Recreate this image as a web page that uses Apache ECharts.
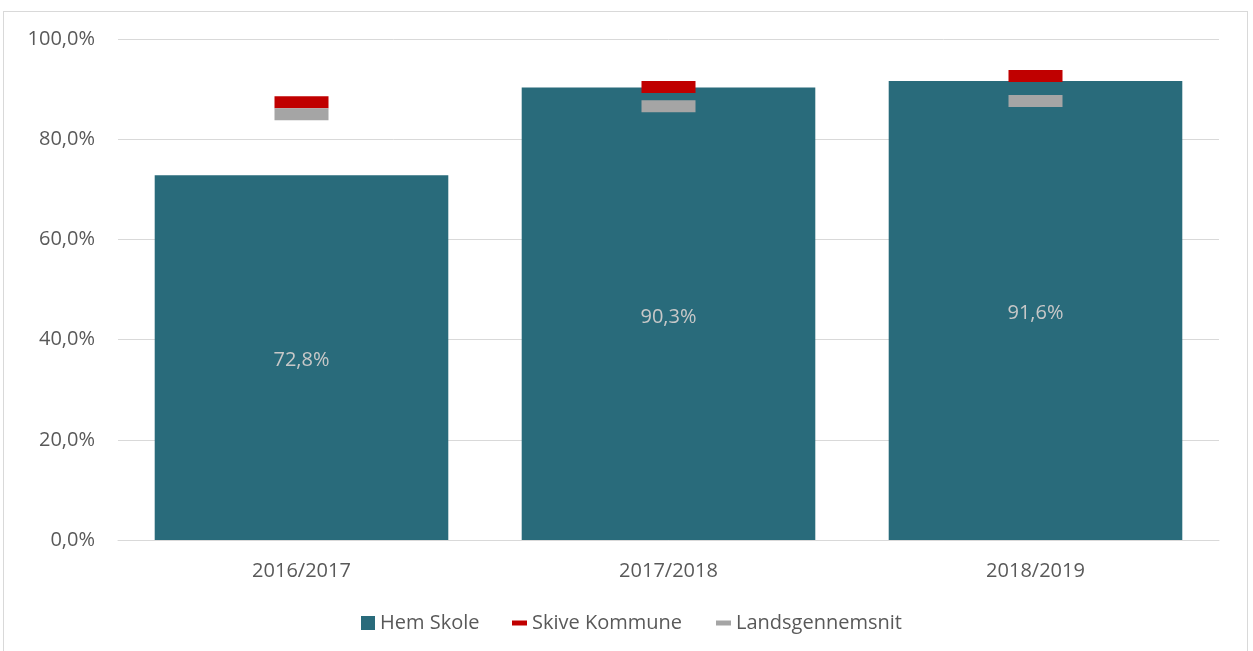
<!DOCTYPE html>
<html>
<head>
<meta charset="utf-8">
<title>Hem Skole</title>
<script src="https://cdn.jsdelivr.net/npm/echarts@6/dist/echarts.min.js"></script>
<style>
  html, body { margin: 0; padding: 0; background: #fff; }
  .frame {
    position: absolute; left: 3px; top: 11px;
    width: 1243px; height: 700px;
    border: 1px solid #d9d9d9;
  }
  #chart { position: absolute; left: 0; top: 0; width: 1253px; height: 651px; }
</style>
</head>
<body>
<div class="frame"></div>
<div id="chart"></div>
<script>
  // skoleår
  var years = ['2016/2017', '2017/2018', '2018/2019'];
  // procent
  var hemSkole = [72.8, 90.3, 91.6];
  var skiveKommune = [87.4, 90.4, 92.6];
  var landsgennemsnit = [85.0, 86.6, 87.6];

  var fmt = function (v) { return Number(v).toFixed(1).replace('.', ',') + '%'; };
  var font = 'Open Sans';

  var chart = echarts.init(document.getElementById('chart'));
  var option = {
    animation: false,
    textStyle: { fontFamily: font, color: '#595959' },
    grid: { left: 118, right: 34, top: 39, bottom: 111, containLabel: false },
    legend: [
      {
        left: 361, top: 613, padding: 0,
        itemWidth: 14, itemHeight: 14, itemGap: 34,
        icon: 'rect',
        textStyle: { fontFamily: font, fontSize: 20, color: '#595959' },
        data: ['Hem Skole']
      },
      {
        left: 512, top: 613, padding: 0,
        itemWidth: 15, itemHeight: 5, itemGap: 34,
        icon: 'rect',
        textStyle: { fontFamily: font, fontSize: 20, color: '#595959' },
        data: ['Skive Kommune', 'Landsgennemsnit']
      }
    ],
    xAxis: {
      type: 'category',
      data: years,
      axisTick: { show: false },
      axisLine: { lineStyle: { color: '#d9d9d9', width: 1 } },
      axisLabel: { fontFamily: font, fontSize: 20, color: '#595959', margin: 21 }
    },
    yAxis: {
      type: 'value',
      min: 0, max: 100, interval: 20,
      axisLine: { show: false },
      axisTick: { show: false },
      splitLine: { lineStyle: { color: '#d9d9d9', width: 1 } },
      axisLabel: { fontFamily: font, fontSize: 20, color: '#595959', margin: 23, formatter: fmt }
    },
    series: [
      {
        name: 'Hem Skole',
        type: 'bar',
        barWidth: '80%',
        itemStyle: { color: '#296b7b' },
        label: {
          show: true, position: 'inside', offset: [0, 3],
          fontFamily: font, fontSize: 20, color: '#c8c8c8',
          formatter: function (p) { return fmt(p.value); }
        },
        data: hemSkole
      },
      {
        name: 'Skive Kommune',
        type: 'scatter',
        symbol: 'rect',
        symbolSize: [54, 12],
        itemStyle: { color: '#c00000', opacity: 1 },
        z: 3,
        data: skiveKommune
      },
      {
        name: 'Landsgennemsnit',
        type: 'scatter',
        symbol: 'rect',
        symbolSize: [54, 12],
        itemStyle: { color: '#a5a5a5', opacity: 1 },
        z: 3,
        data: landsgennemsnit
      }
    ]
  };
  chart.setOption(option);
</script>
</body>
</html>
